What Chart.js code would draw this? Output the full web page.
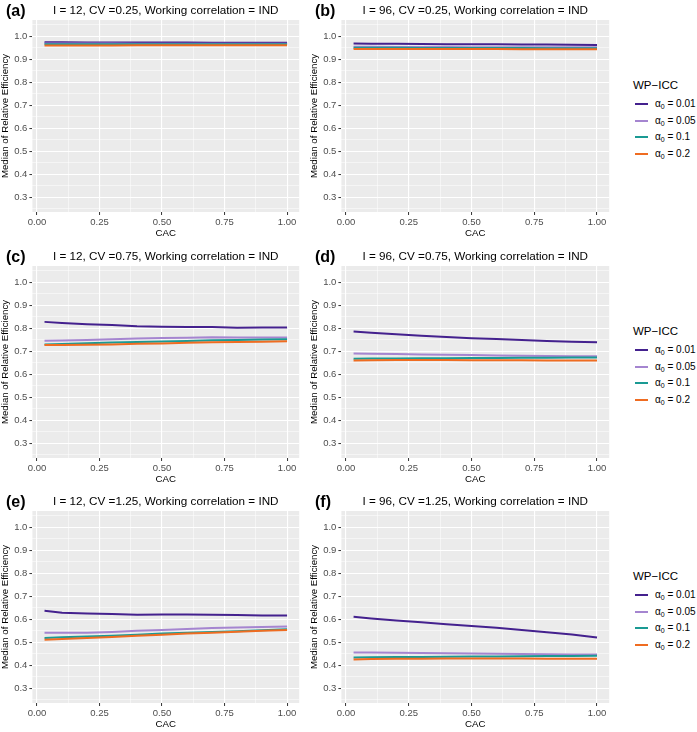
<!DOCTYPE html>
<html>
<head>
<meta charset="utf-8">
<title>Median of Relative Efficiency by CAC</title>
<script src="https://cdn.jsdelivr.net/npm/chart.js@4.4.1/dist/chart.umd.min.js"></script>
<style>
    body {
        margin: 0;
        background: #ffffff;
        width: 697px;
        height: 732px;
        position: relative;
        overflow: hidden;
        font-family: "Liberation Sans", Arial, sans-serif;
    }
    canvas { position: absolute; }
    .legend { position: absolute; left: 633px; width: 64px; height: 90px; }
    .legend .ttl { position: absolute; left: 0; top: 0; font-size: 11.5px; line-height: 14px; white-space: nowrap; color: #000; }
    .legend .item { position: absolute; left: 0; height: 12px; font-size: 10px; line-height: 12px; white-space: nowrap; color: #000; }
    .legend .swatch { position: absolute; left: 2px; top: 5px; width: 13px; height: 2px; }
    .legend .lbl { position: absolute; left: 22px; top: 0; }
    .legend sub { font-size: 7px; vertical-align: -2px; }
</style>
</head>
<body>

<canvas id="panelA" width="300" height="240" style="left:0px;top:0px"></canvas>
<canvas id="panelB" width="301" height="240" style="left:309px;top:0px"></canvas>
<canvas id="panelC" width="300" height="240" style="left:0px;top:246px"></canvas>
<canvas id="panelD" width="301" height="240" style="left:309px;top:246px"></canvas>
<canvas id="panelE" width="300" height="240" style="left:0px;top:491px"></canvas>
<canvas id="panelF" width="301" height="240" style="left:309px;top:491px"></canvas>

<script>
// CAC values on the x axis
const cac = [0.03, 0.1, 0.2, 0.3, 0.4, 0.5, 0.6, 0.7, 0.8, 0.9, 1.0];

// WP-ICC groups
const iccValues = ['0.01', '0.05', '0.1', '0.2'];
const iccColors = ['#44218E', '#A585D0', '#1A9A93', '#EF6C21'];

// (a) I = 12, CV = 0.25
const a01 = [0.973, 0.973, 0.972, 0.972, 0.972, 0.972, 0.972, 0.971, 0.971, 0.971, 0.971];
const a05 = [0.968, 0.968, 0.968, 0.968, 0.967, 0.967, 0.967, 0.967, 0.967, 0.967, 0.967];
const a10 = [0.965, 0.965, 0.965, 0.965, 0.965, 0.965, 0.965, 0.965, 0.965, 0.965, 0.965];
const a20 = [0.959, 0.959, 0.959, 0.959, 0.960, 0.960, 0.960, 0.960, 0.960, 0.960, 0.960];

// (b) I = 96, CV = 0.25
const b01 = [0.968, 0.967, 0.967, 0.966, 0.965, 0.965, 0.964, 0.963, 0.963, 0.962, 0.961];
const b05 = [0.954, 0.954, 0.953, 0.953, 0.953, 0.952, 0.952, 0.952, 0.951, 0.951, 0.951];
const b10 = [0.949, 0.949, 0.949, 0.948, 0.948, 0.948, 0.948, 0.948, 0.947, 0.947, 0.947];
const b20 = [0.944, 0.944, 0.944, 0.944, 0.944, 0.944, 0.944, 0.943, 0.943, 0.943, 0.943];

// (c) I = 12, CV = 0.75
const c01 = [0.827, 0.822, 0.817, 0.813, 0.808, 0.806, 0.805, 0.805, 0.801, 0.802, 0.802];
const c05 = [0.745, 0.746, 0.748, 0.751, 0.755, 0.757, 0.758, 0.760, 0.759, 0.759, 0.759];
const c10 = [0.729, 0.731, 0.734, 0.737, 0.739, 0.742, 0.744, 0.747, 0.748, 0.750, 0.751];
const c20 = [0.726, 0.726, 0.727, 0.729, 0.732, 0.733, 0.736, 0.738, 0.740, 0.741, 0.743];

// (d) I = 96, CV = 0.75
const d01 = [0.785, 0.780, 0.773, 0.767, 0.761, 0.756, 0.752, 0.748, 0.744, 0.741, 0.738];
const d05 = [0.689, 0.688, 0.687, 0.685, 0.684, 0.683, 0.681, 0.680, 0.679, 0.678, 0.677];
const d10 = [0.667, 0.668, 0.668, 0.669, 0.669, 0.670, 0.670, 0.671, 0.671, 0.672, 0.672];
const d20 = [0.659, 0.660, 0.661, 0.661, 0.661, 0.660, 0.660, 0.660, 0.659, 0.659, 0.659];

// (e) I = 12, CV = 1.25
const e01 = [0.636, 0.627, 0.624, 0.622, 0.619, 0.620, 0.620, 0.619, 0.618, 0.616, 0.616];
const e05 = [0.540, 0.540, 0.541, 0.544, 0.549, 0.553, 0.557, 0.561, 0.563, 0.565, 0.568];
const e10 = [0.518, 0.521, 0.524, 0.528, 0.532, 0.537, 0.540, 0.544, 0.547, 0.551, 0.556];
const e20 = [0.510, 0.513, 0.518, 0.522, 0.527, 0.532, 0.537, 0.541, 0.545, 0.549, 0.553];

// (f) I = 96, CV = 1.25
const f01 = [0.610, 0.603, 0.594, 0.586, 0.578, 0.570, 0.562, 0.553, 0.543, 0.533, 0.520];
const f05 = [0.455, 0.455, 0.454, 0.452, 0.451, 0.450, 0.449, 0.448, 0.447, 0.446, 0.446];
const f10 = [0.433, 0.434, 0.435, 0.435, 0.436, 0.437, 0.437, 0.438, 0.439, 0.439, 0.440];
const f20 = [0.424, 0.426, 0.427, 0.427, 0.428, 0.428, 0.428, 0.428, 0.427, 0.427, 0.427];

// Axis ticks (major labelled, minor only as grid lines)
const xTicks = [0, 0.25, 0.5, 0.75, 1];
const xTickLabels = ['0.00', '0.25', '0.50', '0.75', '1.00'];
const xMinor = [0.125, 0.375, 0.625, 0.875];
const yTicks = [0.3, 0.4, 0.5, 0.6, 0.7, 0.8, 0.9, 1.0];
const yTickLabels = ['0.3', '0.4', '0.5', '0.6', '0.7', '0.8', '0.9', '1.0'];
const yMinor = [0.25, 0.35, 0.45, 0.55, 0.65, 0.75, 0.85, 0.95, 1.05];

const FONT = '"Liberation Sans", Arial, Helvetica, sans-serif';
Chart.defaults.font.family = FONT;

function majorIndex(list, v) {
    return list.findIndex(t => Math.abs(t - v) < 1e-9);
}

// grey panel background + tag and title above the panel
const panelDecor = {
    id: 'panelDecor',
    beforeDraw(chart, args, opts) {
        const { ctx, chartArea: a } = chart;
        ctx.save();
        ctx.fillStyle = '#EBEBEB';
        ctx.fillRect(a.left, a.top, a.right - a.left, a.bottom - a.top);
        ctx.restore();
    },
    afterDraw(chart, args, opts) {
        const { ctx, chartArea: a } = chart;
        ctx.save();
        ctx.fillStyle = '#000000';
        ctx.textBaseline = 'middle';
        ctx.textAlign = 'left';
        ctx.font = 'bold 16px ' + FONT;
        ctx.fillText(opts.tag, 6, 12);
        ctx.textAlign = 'center';
        ctx.font = '11.7px ' + FONT;
        ctx.fillText(opts.title, (a.left + a.right) / 2, 11);
        ctx.restore();
    }
};

function axisStyle(majors, majorLabels, minors, min, max, titleText) {
    const all = majors.concat(minors).sort((p, q) => p - q);
    return {
        type: 'linear',
        min: min,
        max: max,
        afterBuildTicks: scale => {
            scale.ticks = all.map(v => ({ value: v }));
        },
        ticks: {
            autoSkip: false,
            maxRotation: 0,
            padding: 2,
            color: '#4D4D4D',
            font: { size: 9.5 },
            callback: v => {
                const i = majorIndex(majors, v);
                return i >= 0 ? majorLabels[i] : '';
            }
        },
        grid: {
            color: '#FFFFFF',
            lineWidth: c => (c.tick && majorIndex(majors, c.tick.value) >= 0) ? 1.1 : 0.5,
            drawTicks: true,
            tickLength: 3,
            tickWidth: 1,
            tickColor: c => (c.tick && majorIndex(majors, c.tick.value) >= 0) ? '#333333' : 'rgba(0,0,0,0)'
        },
        border: { display: false },
        title: {
            display: true,
            text: titleText,
            color: '#000000',
            font: { size: 9.7 },
            padding: { top: 0, bottom: 0 }
        }
    };
}

function makePanel(canvasId, tag, title, series) {
    const ctx = document.getElementById(canvasId).getContext('2d');
    const xAxis = axisStyle(xTicks, xTickLabels, xMinor, -0.0185, 1.0485, 'CAC');
    xAxis.afterFit = scale => { scale.height = 27; };
    const yAxis = axisStyle(yTicks, yTickLabels, yMinor, 0.235, 1.07, 'Median of Relative Efficiency');
    yAxis.afterFit = scale => { scale.width = 32.4; };

    return new Chart(ctx, {
        type: 'line',
        data: {
            datasets: series.map((vals, i) => ({
                label: 'α₀ = ' + iccValues[i],
                data: vals.map((v, k) => ({ x: cac[k], y: v })),
                borderColor: iccColors[i],
                backgroundColor: iccColors[i],
                borderWidth: 2,
                pointRadius: 0,
                tension: 0,
                fill: false,
                order: series.length - 1 - i
            }))
        },
        options: {
            responsive: false,
            animation: false,
            layout: { padding: { top: 20, right: 0.8, bottom: 1, left: 0 } },
            scales: { x: xAxis, y: yAxis },
            plugins: {
                legend: { display: false },
                tooltip: { enabled: false },
                panelDecor: { tag: tag, title: title }
            }
        },
        plugins: [panelDecor]
    });
}

makePanel('panelA', '(a)', 'I = 12, CV =0.25, Working correlation = IND', [a01, a05, a10, a20]);
makePanel('panelB', '(b)', 'I = 96, CV =0.25, Working correlation = IND', [b01, b05, b10, b20]);
makePanel('panelC', '(c)', 'I = 12, CV =0.75, Working correlation = IND', [c01, c05, c10, c20]);
makePanel('panelD', '(d)', 'I = 96, CV =0.75, Working correlation = IND', [d01, d05, d10, d20]);
makePanel('panelE', '(e)', 'I = 12, CV =1.25, Working correlation = IND', [e01, e05, e10, e20]);
makePanel('panelF', '(f)', 'I = 96, CV =1.25, Working correlation = IND', [f01, f05, f10, f20]);

// One legend per row, to the right of the right-hand panel
const rowTops = [0, 246, 491];
rowTops.forEach(top => {
    const legend = document.createElement('div');
    legend.className = 'legend';
    legend.style.top = (top + 78) + 'px';
    const ttl = document.createElement('div');
    ttl.className = 'ttl';
    ttl.textContent = 'WP−ICC';
    legend.appendChild(ttl);
    iccValues.forEach((val, i) => {
        const item = document.createElement('div');
        item.className = 'item';
        item.style.top = (20 + i * 16.7) + 'px';
        item.innerHTML = '<span class="swatch" style="background:' + iccColors[i] + '"></span>' +
            '<span class="lbl">α<sub>0</sub> = ' + val + '</span>';
        legend.appendChild(item);
    });
    document.body.appendChild(legend);
});
</script>
</body>
</html>
